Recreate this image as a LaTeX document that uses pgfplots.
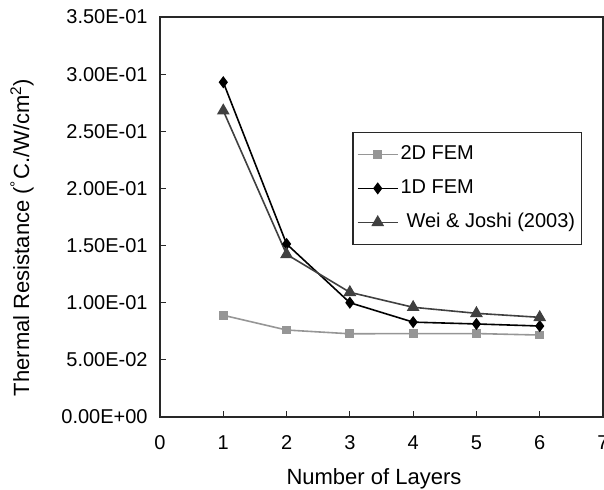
\documentclass[border=0pt]{standalone}
\usepackage{pgfplots}
\pgfplotsset{compat=1.18}
\usepackage{fontspec}
\setmainfont{Liberation Sans}
\definecolor{c2d}{RGB}{150,150,150}
\definecolor{cwei}{RGB}{64,64,64}
\definecolor{axc}{RGB}{40,40,40}
\begin{document}
\begin{tikzpicture}
\begin{axis}[
  scale only axis,
  width=221.5pt, height=200pt,
  xmin=0, xmax=7, ymin=0, ymax=0.35,
  xtick={0,1,2,3,4,5,6,7},
  ytick={0,0.05,0.1,0.15,0.2,0.25,0.3,0.35},
  yticklabels={0.00E+00,5.00E-02,1.00E-01,1.50E-01,2.00E-01,2.50E-01,3.00E-01,3.50E-01},
  /pgf/number format/assume math mode=true,
  tick align=inside,
  xtick pos=bottom, ytick pos=left,
  major tick length=3pt,
  axis line style={axc, line width=0.6pt},
  tick style={axc, line width=0.6pt},
  tick label style={font=\fontsize{10}{12}\selectfont},
  yticklabel style={anchor=east, inner sep=0pt, xshift=-6pt},
  xticklabel style={anchor=base, inner sep=0pt, yshift=-16.5pt},
  xlabel={Number of Layers},
  ylabel={Thermal Resistance (\textsuperscript{°}C./W/cm\textsuperscript{2})},
  label style={font=\fontsize{11}{13}\selectfont},
  xlabel style={at={(rel axis cs:0.483,0)}, anchor=base, yshift=-34pt},
  ylabel style={at={(rel axis cs:0,0.449)}, anchor=center, yshift=69pt},
  legend style={at={(rel axis cs:0.952,0.713)}, anchor=north east,
    draw=axc, line width=0.6pt, font=\fontsize{10}{12}\selectfont,
    inner xsep=2pt, inner ysep=3pt, row sep=1pt,
    nodes={inner xsep=1pt, inner ysep=3pt, text height=7.5pt, text depth=2.5pt},
    cells={anchor=west}},
  legend image code/.code={\draw[mark repeat=2,mark phase=2,#1] plot coordinates {(0pt,0pt) (10pt,0pt) (20pt,0pt)};},
]
\addplot[c2d, line width=0.8pt, mark=square*, mark size=1.8pt, mark options={fill=c2d, draw=c2d}]
  coordinates {(1,0.0890) (2,0.0761) (3,0.0728) (4,0.0730) (5,0.0730) (6,0.0717)};
\addlegendentry{2D FEM}
\addplot[black, line width=0.8pt, mark=diamond*, mark size=2.4pt, mark options={fill=black}]
  coordinates {(1,0.2929) (2,0.1514) (3,0.1000) (4,0.0830) (5,0.0814) (6,0.0796)};
\addlegendentry{1D FEM}
\addplot[cwei, line width=0.8pt, mark=triangle*, mark size=2.9pt, mark options={fill=cwei, draw=cwei}]
  coordinates {(1,0.2680) (2,0.1423) (3,0.1091) (4,0.0960) (5,0.0907) (6,0.0872)};
\addlegendentry{\hspace{3pt}Wei \& Joshi (2003)}
\coordinate (ll) at (rel axis cs:0,0);
\end{axis}
\pgfresetboundingbox
\path[use as bounding box] ([shift={(-80pt,-36.5pt)}]ll) rectangle ([shift={(222pt,208.5pt)}]ll);
\end{tikzpicture}
\end{document}
